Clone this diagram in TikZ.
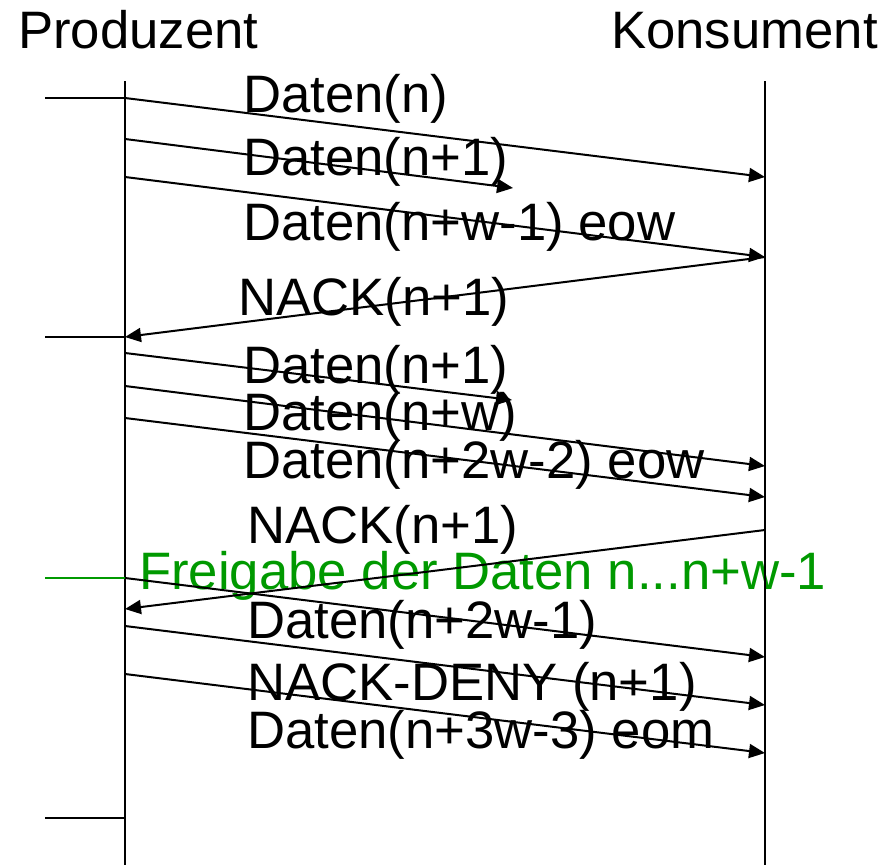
\documentclass[tikz,border=0pt]{standalone}
\usepackage{fontspec}
\setmainfont{Liberation Sans}
\usetikzlibrary{arrows.meta}
\definecolor{relgreen}{RGB}{0,153,0}
\tikzset{
  lbl/.style={inner sep=0pt, anchor=base west, font=\fontsize{52.7}{60}\selectfont},
  life/.style={line width=2pt},
  msg/.style={line width=2pt, -{Triangle[length=16pt,width=14pt]}},
  lost/.style={line width=2pt, -{Triangle[length=16pt,width=14pt]}},
  tick/.style={line width=2pt}
}
\begin{document}
\begin{tikzpicture}[x=1pt,y=-1pt]
\useasboundingbox (0,0) rectangle (895,865);
% headers
\node[lbl] (prod) at (18,48) {Produzent};
\node[lbl, anchor=base east] (kons) at (878,48) {Konsument};
% labels
\node[lbl] (t1) at (243,112) {Daten(n)};
\node[lbl] (t2) at (243,175) {Daten(n+1)};
\node[lbl] (t3) at (243,240) {Daten(n+w-1) eow};
\node[lbl] (t4) at (238,315) {NACK(n+1)};
\node[lbl] (t5) at (243,383) {Daten(n+1)};
\node[lbl] (t6) at (243,430) {Daten(n+w)};
\node[lbl] (t7) at (243,478) {Daten(n+2w-2) eow};
\node[lbl] (t8) at (247,543) {NACK(n+1)};
\node[lbl, text=relgreen] (t9) at (139,589) {Freigabe der Daten n...n+w-1};
\node[lbl] (t10) at (247,638) {Daten(n+2w-1)};
\node[lbl] (t11) at (247,700) {NACK-DENY (n+1)};
\node[lbl] (t12) at (247,748) {Daten(n+3w-3) eom};
% lifelines
\coordinate (ptop) at (125,81);
\coordinate (pbot) at (125,865);
\coordinate (ktop) at (765,81);
\coordinate (kbot) at (765,865);
\draw[life] (ptop) -- (pbot);
\draw[life] (ktop) -- (kbot);
% ticks
\coordinate (a1) at (45,98);   \coordinate (p1) at (125,98);
\coordinate (a2) at (45,337);  \coordinate (p2) at (125,337);
\coordinate (a3) at (45,578);  \coordinate (p3) at (125,578);
\coordinate (a4) at (45,818);  \coordinate (p4) at (125,818);
\draw[tick] (a1) -- (p1);
\draw[tick] (a2) -- (p2);
\draw[tick, relgreen] (a3) -- (p3);
\draw[tick] (a4) -- (p4);
% message endpoints
\coordinate (s2) at (125,139); \coordinate (x2) at (513,188);
\coordinate (s3) at (125,177); \coordinate (k1) at (765,177);
\coordinate (k3) at (765,257);
\coordinate (s5) at (125,353); \coordinate (x5) at (512,400);
\coordinate (s6) at (125,386); \coordinate (k6) at (765,466);
\coordinate (s7) at (125,418); \coordinate (k7) at (765,497);
\coordinate (k8) at (765,530); \coordinate (p8) at (125,609);
\coordinate (k9) at (765,657);
\coordinate (s10) at (125,626); \coordinate (k10) at (765,705);
\coordinate (s11) at (125,674); \coordinate (k11) at (765,753);
% messages
\draw[msg] (p1) -- (k1);
\draw[lost] (s2) -- (x2);
\draw[msg] (s3) -- (k3);
\draw[msg] (k3) -- (p2);
\draw[lost] (s5) -- (x5);
\draw[msg] (s6) -- (k6);
\draw[msg] (s7) -- (k7);
\draw[msg] (k8) -- (p8);
\draw[msg] (p3) -- (k9);
\draw[msg] (s10) -- (k10);
\draw[msg] (s11) -- (k11);
\end{tikzpicture}
\end{document}
